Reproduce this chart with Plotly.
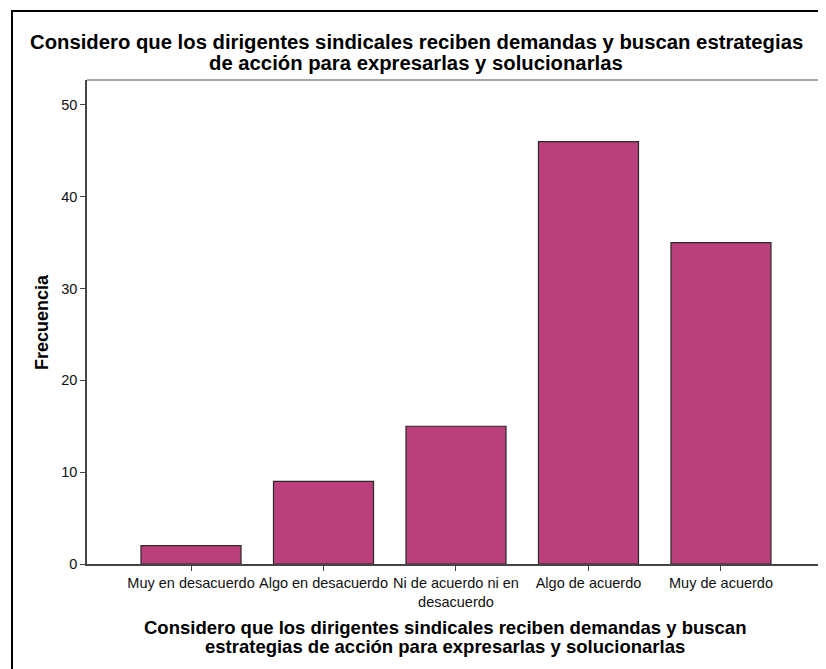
import plotly.graph_objects as go

categories = ["Muy en desacuerdo", "Algo en desacuerdo", "Ni de acuerdo ni en<br>desacuerdo",
              "Algo de acuerdo", "Muy de acuerdo"]
frequencies = [2, 9, 15, 46, 35]
y_ticks = [0, 10, 20, 30, 40, 50]

title_lines = ["Considero que los dirigentes sindicales reciben demandas y buscan estrategias",
               "de acción para expresarlas y solucionarlas"]
xtitle_lines = ["Considero que los dirigentes sindicales reciben demandas y buscan",
                "estrategias de acción para expresarlas y solucionarlas"]

# page is offset by the default 8px body margin
OFF = 8
W, H = 826 - OFF, 669 - OFF
L, R, T, B = 87 - OFF, 823 - OFF, 80 - OFF, 564 - OFF
pw, ph = R - L, B - T


def px(x):
    return (x - OFF - L) / pw


def py(y):
    return (B - (y - OFF)) / ph


fig = go.Figure()
fig.add_trace(go.Bar(
    x=list(range(len(categories))), y=frequencies, width=0.755,
    marker=dict(color="#BA3F7B", line=dict(color="#2a2a2a", width=1.2)),
    hoverinfo="y",
))

font = "Liberation Sans, Arial, sans-serif"
annotations = []
for line, ypos in zip(title_lines, [42, 63]):
    annotations.append(dict(text="<b>" + line + "</b>", xref="paper", yref="paper",
                            x=px(416), y=py(ypos), xanchor="center", yanchor="middle",
                            showarrow=False, font=dict(size=20.3, family=font, color="#000")))
for line, ypos in zip(xtitle_lines, [627, 646]):
    annotations.append(dict(text="<b>" + line + "</b>", xref="paper", yref="paper",
                            x=px(445), y=py(ypos), xanchor="center", yanchor="middle",
                            showarrow=False, font=dict(size=18.5, family=font, color="#000")))
annotations.append(dict(text="<b>Frecuencia</b>", xref="paper", yref="paper",
                        x=px(42), y=py(322), xanchor="center", yanchor="middle", textangle=-90,
                        showarrow=False, font=dict(size=18, family=font, color="#000")))

fig.update_layout(
    width=W, height=H,
    margin=dict(l=L, r=W - R, t=T, b=H - B, pad=0),
    paper_bgcolor="white", plot_bgcolor="white",
    showlegend=False,
    font=dict(family=font, color="#000"),
    xaxis=dict(
        range=[-0.785, 4.77], tickmode="array", tickvals=list(range(len(categories))),
        ticktext=categories, ticks="outside", ticklen=5, tickcolor="#444",
        tickfont=dict(size=14.5, color="#111"), showgrid=False, zeroline=False,
        showline=True, linecolor="#444", linewidth=1.5, mirror=False,
    ),
    yaxis=dict(
        range=[0, 52.7], tickmode="array", tickvals=y_ticks,
        ticks="outside", ticklen=5, tickcolor="#444",
        tickfont=dict(size=14.5, color="#111"), showgrid=False, zeroline=False,
        showline=True, linecolor="#444", linewidth=1.5,
    ),
    shapes=[
        dict(type="line", xref="paper", yref="paper", x0=0, x1=1, y0=1, y1=1,
             line=dict(color="#888", width=1.5)),
        dict(type="line", xref="paper", yref="paper", x0=1, x1=1, y0=0, y1=1,
             line=dict(color="#888", width=1.5)),
        dict(type="rect", xref="paper", yref="paper",
             x0=px(12), x1=px(860), y0=py(700), y1=py(11),
             line=dict(color="#000", width=2), fillcolor="rgba(0,0,0,0)", layer="above"),
    ],
    annotations=annotations,
)

fig.write_html("out.html")
